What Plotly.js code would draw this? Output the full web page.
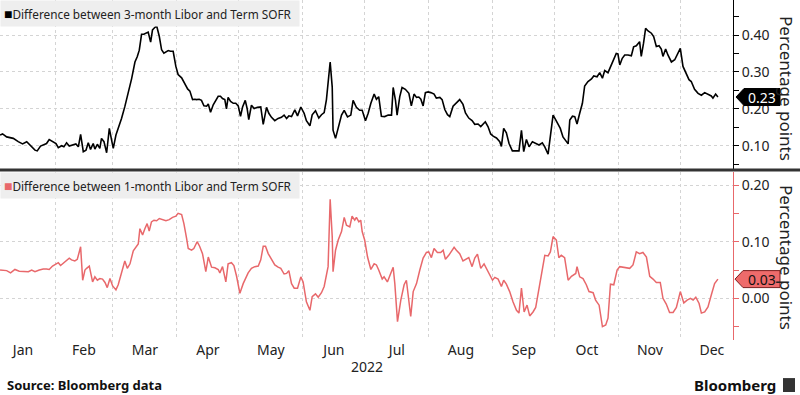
<!DOCTYPE html>
<html><head><meta charset="utf-8">
<script src="https://cdn.plot.ly/plotly-3.0.1.min.js"></script>
<style>html,body{margin:0;padding:0;background:#fff}#chart{width:800px;height:395px}</style>
</head><body><div id="chart"></div>
<script>
// ---- data (days after 2022-01-01, spread in percentage points) ----
const yearLabel = '2022';
const topName = 'Difference between 3-month Libor and Term SOFR';
const bottomName = 'Difference between 1-month Libor and Term SOFR';
const axisTitle = 'Percentage points';
const sourceText = 'Source: Bloomberg data';
const brandText = 'Bloomberg';

const topDays = [4.4,5.6,7.6,10.8,13.2,15.3,17.3,18.9,21.3,22.4,24.0,26.1,26.9,28.2,30.2,31.5,32.6,34.2,35.3,36.6,37.9,39.8,41.1,42.3,43.4,44.7,46.0,47.1,48.2,49.5,50.3,51.5,52.7,53.5,54.7,56.0,57.3,58.4,59.2,60.5,61.6,63.2,64.8,66.5,68.1,69.7,70.8,71.8,72.9,74.0,75.3,76.1,77.3,78.2,79.4,80.2,81.5,82.6,83.7,85.0,85.8,86.9,88.2,89.5,90.6,92.3,93.9,95.2,96.3,97.6,98.7,99.5,100.8,101.9,103.1,104.4,105.2,106.3,107.6,108.9,110.0,111.1,112.1,113.2,114.0,114.8,116.0,117.3,118.5,119.7,120.8,121.8,123.1,124.0,
124.8,126.1,127.4,129.0,130.6,131.8,133.4,134.5,135.8,137.4,139.0,140.6,141.9,143.1,144.2,145.5,147.1,148.4,150.0,151.6,152.7,154.4,155.5,157.1,158.7,160.0,161.3,162.4,163.2,164.2,165.2,165.6,166.8,168.1,169.7,171.0,172.6,174.2,175.3,176.9,178.5,179.7,181.3,182.6,183.9,185.5,186.6,187.7,189.0,190.6,192.3,193.9,194.7,195.8,196.6,197.9,199.0,200.6,202.3,203.5,204.8,206.0,207.1,208.1,209.2,210.3,211.6,212.9,214.5,215.6,217.3,218.4,219.7,221.0,222.1,223.7,225.3,226.9,228.5,229.7,231.3,232.9,234.2,235.8,237.1,238.2,239.3,240.6,241.9,
243.1,244.7,246.3,247.1,248.2,249.5,250.8,252.4,254.0,255.6,256.8,257.9,259.2,260.5,262.1,263.7,265.3,266.9,268.1,269.7,271.0,272.1,273.4,274.6,275.6,276.9,278.2,279.4,280.2,281.5,282.6,283.7,285.0,286.3,287.4,289.0,290.7,291.8,293.4,294.7,296.0,297.1,298.7,299.9,301.5,302.7,303.5,304.4,305.6,306.8,308.4,310.0,311.1,312.4,314.0,314.8,315.9,316.9,318.1,319.7,320.8,322.1,323.4,324.5,325.3,326.6,327.7,329.4,331.0,332.6,333.7,335.0,336.6,337.9,339.0,340.6,342.3,343.9,345.5,347.1,348.7,349.5,350.8,351.9];
const topValues = [0.129,0.132,0.124,0.120,0.111,0.105,0.111,0.102,0.088,0.086,0.099,0.104,0.106,0.117,0.111,0.106,0.095,0.100,0.097,0.108,0.099,0.102,0.105,0.097,0.131,0.084,0.088,0.108,0.090,0.106,0.091,0.104,0.093,0.120,0.111,0.081,0.147,0.115,0.093,0.129,0.147,0.174,0.206,0.242,0.282,0.327,0.341,0.359,0.402,0.402,0.405,0.408,0.381,0.414,0.421,0.425,0.396,0.360,0.351,0.354,0.358,0.356,0.356,0.315,0.293,0.284,0.266,0.254,0.248,0.225,0.226,0.225,0.226,0.223,0.208,0.207,0.213,0.191,0.211,0.225,0.234,0.234,0.228,0.225,0.200,0.231,0.220,0.215,0.215,0.208,0.180,0.205,0.223,0.201,
0.171,0.210,0.201,0.204,0.205,0.158,0.204,0.188,0.177,0.168,0.174,0.177,0.183,0.174,0.181,0.179,0.197,0.181,0.205,0.188,0.168,0.154,0.184,0.195,0.175,0.184,0.190,0.225,0.269,0.327,0.259,0.142,0.120,0.151,0.183,0.196,0.178,0.183,0.223,0.204,0.196,0.196,0.168,0.188,0.215,0.240,0.226,0.233,0.180,0.179,0.183,0.183,0.258,0.224,0.183,0.233,0.258,0.253,0.242,0.208,0.240,0.231,0.232,0.226,0.208,0.244,0.246,0.244,0.240,0.229,0.231,0.225,0.198,0.184,0.179,0.207,0.216,0.225,0.212,0.189,0.175,0.168,0.158,0.159,0.152,0.159,0.165,0.152,0.132,
0.126,0.121,0.111,0.098,0.147,0.135,0.106,0.086,0.086,0.086,0.142,0.084,0.117,0.097,0.111,0.106,0.102,0.108,0.097,0.077,0.133,0.183,0.170,0.156,0.147,0.124,0.115,0.105,0.170,0.180,0.179,0.159,0.188,0.215,0.262,0.274,0.281,0.289,0.287,0.298,0.283,0.304,0.298,0.314,0.337,0.350,0.349,0.319,0.337,0.346,0.346,0.344,0.368,0.371,0.382,0.342,0.378,0.418,0.411,0.405,0.396,0.369,0.371,0.362,0.342,0.362,0.346,0.327,0.333,0.353,0.364,0.315,0.297,0.279,0.274,0.253,0.242,0.237,0.244,0.239,0.235,0.229,0.240,0.232];

const bottomDays = [4.4,6.0,7.6,9.5,11.6,13.7,15.6,18.1,19.7,21.3,23.4,25.3,26.9,28.2,29.8,31.5,32.6,33.7,35.3,36.6,37.9,39.0,40.6,41.8,42.7,43.4,44.4,45.5,46.3,47.6,49.2,50.3,51.5,52.7,54.0,55.2,56.3,57.6,58.9,60.5,61.6,63.2,64.8,66.0,67.3,68.9,70.2,71.3,72.1,73.4,74.5,75.6,76.6,77.7,78.9,80.2,81.5,83.1,84.7,86.3,87.9,89.5,90.6,92.3,93.4,94.7,95.5,97.1,98.2,99.8,101.0,102.4,104.0,105.2,106.8,108.4,110.0,110.8,112.1,113.7,114.8,116.4,117.6,118.9,120.5,122.1,123.7,
124.5,126.1,127.7,129.4,130.6,131.8,132.9,134.2,135.8,137.4,139.0,140.3,141.9,143.1,144.2,145.5,146.8,148.4,150.0,151.1,152.7,154.4,155.5,157.1,158.4,160.0,161.3,162.4,163.2,164.2,165.2,165.6,166.8,168.1,169.7,171.0,172.1,173.7,174.8,176.1,176.9,178.1,179.0,179.7,180.9,182.3,183.9,185.5,186.6,187.7,189.4,190.3,191.9,193.5,194.7,195.5,196.8,198.4,200.0,201.1,202.3,203.2,204.4,206.0,207.6,209.2,210.8,211.9,213.2,214.5,216.1,217.7,218.9,220.0,221.6,222.9,224.2,225.3,226.9,228.5,230.2,231.3,232.9,234.2,235.5,237.1,238.7,239.8,241.5,
242.8,243.9,245.5,247.1,248.2,249.5,251.1,252.7,254.4,255.6,256.8,258.1,259.5,260.8,262.4,263.7,265.3,266.9,268.1,269.7,270.8,272.1,273.7,274.9,276.1,277.7,279.4,281.0,283.1,283.7,285.0,286.6,288.2,289.5,291.5,292.7,294.4,296.0,297.6,298.7,299.9,301.5,303.1,304.4,306.0,307.6,309.2,310.8,312.4,314.0,315.6,317.3,318.9,320.5,322.1,324.0,325.3,326.9,328.5,330.2,331.8,333.7,335.4,337.0,338.6,339.9,341.2,342.8,343.9,345.5,347.1,348.7,350.3,351.9];
const bottomValues = [0.050,0.049,0.049,0.045,0.051,0.048,0.047,0.047,0.050,0.047,0.050,0.052,0.052,0.051,0.057,0.061,0.063,0.058,0.063,0.066,0.071,0.068,0.066,0.069,0.082,0.091,0.032,0.050,0.053,0.057,0.029,0.038,0.032,0.035,0.034,0.028,0.019,0.035,0.022,0.015,0.024,0.044,0.066,0.053,0.061,0.084,0.090,0.096,0.123,0.112,0.123,0.132,0.119,0.135,0.138,0.137,0.141,0.139,0.137,0.139,0.143,0.145,0.150,0.148,0.132,0.106,0.088,0.085,0.088,0.100,0.092,0.079,0.047,0.073,0.055,0.054,0.051,0.045,0.056,0.029,0.061,0.063,0.058,0.039,0.009,0.026,0.039,
0.045,0.053,0.056,0.057,0.068,0.092,0.092,0.079,0.068,0.059,0.055,0.053,0.043,0.044,0.049,0.026,0.018,0.018,0.038,0.029,-0.006,-0.021,0.003,0.008,0.002,0.010,0.021,0.038,0.056,0.175,0.109,0.047,0.085,0.103,0.118,0.143,0.129,0.126,0.145,0.138,0.143,0.135,0.138,0.118,0.103,0.073,0.051,0.061,0.059,0.050,0.034,0.038,0.029,0.044,0.055,0.026,-0.041,-0.003,0.024,0.032,-0.006,-0.032,0.012,0.026,0.050,0.071,0.081,0.082,0.072,0.088,0.081,0.081,0.085,0.069,0.076,0.082,0.090,0.085,0.079,0.066,0.069,0.072,0.056,0.071,0.078,0.053,0.061,0.053,0.041,
0.032,0.037,0.034,0.021,0.032,0.025,0.012,-0.006,-0.021,-0.026,0.018,-0.024,-0.012,-0.031,-0.024,-0.016,0.016,0.050,0.076,0.075,0.082,0.109,0.103,0.072,0.076,0.072,0.032,0.039,0.044,0.056,0.038,0.035,0.024,0.012,0.010,-0.003,-0.012,-0.050,-0.047,-0.035,0.025,0.024,0.050,0.056,0.055,0.053,0.053,0.059,0.082,0.079,0.081,0.073,0.039,0.034,0.028,0.028,0.000,-0.010,-0.025,-0.025,-0.016,0.012,-0.008,-0.003,0.000,-0.003,0.002,-0.009,-0.026,-0.024,-0.015,0.006,0.026,0.034];

// ---- helpers ----
const base = Date.UTC(2022, 0, 1);
function toDate(d) {
  return new Date(base + d * 86400000).toISOString().slice(0, 16).replace('T', ' ');
}
const topX = topDays.map(toDate);
const bottomX = bottomDays.map(toDate);
const topLast = topValues[topValues.length - 1];
const bottomLast = bottomValues[bottomValues.length - 1];

const FONT = 'Noto Sans, Open Sans, Liberation Sans, sans-serif';
const RED = '#e8686b';
const GRID = '#d4d4d4';
const xRange = ['2022-01-05 09:00', '2022-12-26 05:00'];

const traces = [
  {x: topX, y: topValues, type: 'scatter', mode: 'lines', xaxis: 'x', yaxis: 'y',
   line: {color: '#000', width: 1.6}, hoverinfo: 'skip', showlegend: false},
  {x: bottomX, y: bottomValues, type: 'scatter', mode: 'lines', xaxis: 'x2', yaxis: 'y2',
   line: {color: RED, width: 1.5}, hoverinfo: 'skip', showlegend: false}
];

const xCommon = {
  type: 'date', range: xRange, tick0: '2022-01-01', dtick: 'M1',
  showgrid: true, gridcolor: GRID, griddash: 'dot', gridwidth: 1,
  zeroline: false, showline: false, ticks: ''
};
const yCommon = {
  side: 'right', dtick: 0.1, tick0: 0, tickformat: '.2f',
  ticks: 'outside', ticklen: 5, showgrid: true, gridcolor: GRID, griddash: 'dot',
  zeroline: false, showline: true, linewidth: 1,
  tickfont: {family: FONT, size: 14, color: '#222'}
};

const layout = {
  width: 800, height: 395,
  margin: {l: 0, r: 67, t: 0, b: 55},
  paper_bgcolor: '#fff', plot_bgcolor: '#fff',
  font: {family: FONT, color: '#222'},
  showlegend: false,
  xaxis: Object.assign({}, xCommon, {anchor: 'y', showticklabels: false}),
  xaxis2: Object.assign({}, xCommon, {anchor: 'y2', matches: 'x', showticklabels: true,
    tickformat: '%b', ticklabelmode: 'period',
    tickfont: {family: FONT, size: 14, color: '#222'}}),
  yaxis: Object.assign({}, yCommon, {domain: [0.503, 1], anchor: 'x', range: [0.037, 0.495],
    linecolor: '#000', tickcolor: '#000',
    minor: {dtick: 0.05, tick0: 0, ticks: 'outside', ticklen: 5, tickcolor: '#000', showgrid: false}}),
  yaxis2: Object.assign({}, yCommon, {domain: [0, 0.494], anchor: 'x2', range: [-0.0735, 0.223],
    linecolor: RED, tickcolor: RED,
    minor: {dtick: 0.05, tick0: 0, ticks: 'outside', ticklen: 5, tickcolor: RED, showgrid: false}}),
  shapes: [
    // separator between panels
    {type: 'line', xref: 'paper', yref: 'paper', x0: 0, x1: 1.0914, y0: 0.5, y1: 0.5,
     line: {color: '#333', width: 3}},
    // value tags
    {type: 'path', xref: 'paper', yref: 'y', xsizemode: 'pixel', ysizemode: 'pixel',
     xanchor: 1, yanchor: topLast, path: 'M3,0 L11,8.5 L47,8.5 L47,-8.5 L11,-8.5 Z',
     fillcolor: '#000', line: {color: '#000', width: 1}},
    {type: 'path', xref: 'paper', yref: 'y2', xsizemode: 'pixel', ysizemode: 'pixel',
     xanchor: 1, yanchor: bottomLast, path: 'M2,0 L10,8.5 L47,8.5 L47,-8.5 L10,-8.5 Z',
     fillcolor: '#ee6b6b', line: {color: '#7a2020', width: 1}},
    // logo mark
    {type: 'rect', xref: 'paper', yref: 'paper', x0: 1.0682, x1: 1.0846, y0: -0.153, y1: -0.112,
     fillcolor: '#333', line: {width: 0}}
  ],
  annotations: [
    {xref: 'paper', yref: 'paper', x: 0, y: 1, xanchor: 'left', yanchor: 'top',
     text: '<span style="color:#000;font-size:14px">■</span>' + topName, showarrow: false, align: 'left',
     bgcolor: '#eeeeee', borderpad: 3, width: 292, height: 19,
     font: {family: FONT, size: 11.8, color: '#222'}},
    {xref: 'paper', yref: 'paper', x: 0, y: 0.494, xanchor: 'left', yanchor: 'top',
     text: '<span style="color:' + RED + ';font-size:14px">■</span>' + bottomName, showarrow: false, align: 'left',
     bgcolor: '#eeeeee', borderpad: 3, width: 292, height: 19,
     font: {family: FONT, size: 11.8, color: '#222'}},
    {xref: 'paper', yref: 'y', x: 1, xshift: 29, y: topLast, xanchor: 'center', yanchor: 'middle',
     text: topLast.toFixed(2), showarrow: false, font: {family: FONT, size: 14, color: '#fff'}},
    {xref: 'paper', yref: 'y2', x: 1, xshift: 29, y: bottomLast, xanchor: 'center', yanchor: 'middle',
     text: bottomLast.toFixed(2), showarrow: false, font: {family: FONT, size: 14, color: '#111'}},
    {xref: 'paper', yref: 'paper', x: 1.0737, y: 0.741, xanchor: 'center', yanchor: 'middle',
     textangle: 90, showarrow: false,
     text: axisTitle, font: {family: FONT, size: 17, color: '#222'}},
    {xref: 'paper', yref: 'paper', x: 1.0737, y: 0.244, xanchor: 'center', yanchor: 'middle',
     textangle: 90, showarrow: false,
     text: axisTitle, font: {family: FONT, size: 17, color: '#222'}},
    {xref: 'paper', yref: 'paper', x: 0.5, y: -0.079, showarrow: false, xanchor: 'center', yanchor: 'middle',
     text: yearLabel, font: {family: FONT, size: 14, color: '#222'}},
    {xref: 'paper', yref: 'paper', x: 0.0068, y: -0.132, xanchor: 'left', yanchor: 'middle', showarrow: false,
     text: '<b>' + sourceText + '</b>', font: {family: FONT, size: 13, color: '#111'}},
    {xref: 'paper', yref: 'paper', x: 1.0614, y: -0.132, xanchor: 'right', yanchor: 'middle', showarrow: false,
     text: '<b>' + brandText + '</b>', font: {family: FONT, size: 15, color: '#111'}}
  ]
};

Plotly.newPlot('chart', traces, layout, {staticPlot: true, displayModeBar: false});
</script>
</body></html>
